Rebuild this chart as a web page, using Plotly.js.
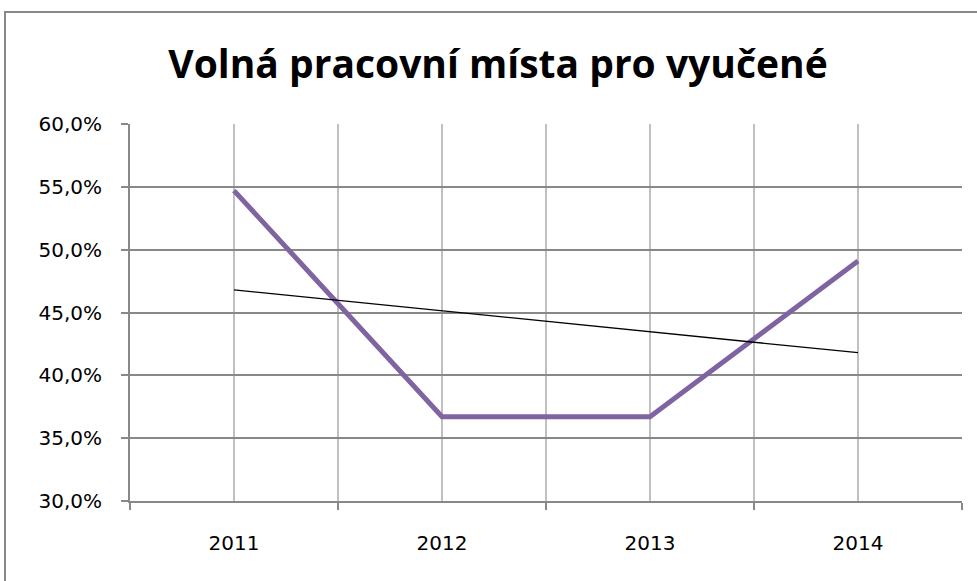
<!DOCTYPE html>
<html>
<head>
<meta charset="utf-8">
<script src="https://cdn.plot.ly/plotly-3.0.1.min.js"></script>
<style>
  html, body { margin: 0; padding: 0; background: #ffffff; }
  #wrap { position: relative; width: 977px; height: 581px; overflow: hidden; }
  #chart { position: absolute; left: 0; top: 0; width: 977px; height: 581px; }
  #frame { position: absolute; left: 4px; top: 11px; width: 1100px; height: 700px;
           border: 2px solid #888888; pointer-events: none; }
</style>
</head>
<body>
<div id="wrap">
  <div id="chart"></div>
  <div id="frame"></div>
</div>
<script>
// Data
const years = [2011, 2012, 2013, 2014];
const yearLabels = ['2011', '2012', '2013', '2014'];
const shares = [0.547, 0.367, 0.367, 0.491];
// Linear trendline endpoints
const trendYears = [2011, 2014];
const trendValues = [0.468, 0.418];
const yTicks = [0.30, 0.35, 0.40, 0.45, 0.50, 0.55, 0.60];

const traces = [
  {
    x: years, y: shares, type: 'scatter', mode: 'lines',
    line: { color: '#8064a2', width: 5 },
    hoverinfo: 'skip', showlegend: false
  },
  {
    x: trendYears, y: trendValues, type: 'scatter', mode: 'lines',
    line: { color: '#000000', width: 1.3 },
    hoverinfo: 'skip', showlegend: false
  }
];

const layout = {
  width: 977, height: 581,
  margin: { l: 130, r: 15, t: 124, b: 80, pad: 0 },
  paper_bgcolor: '#ffffff', plot_bgcolor: '#ffffff',
  separators: ', ',
  showlegend: false,
  title: {
    text: 'Volná pracovní místa pro vyučené',
    font: { family: 'Open Sans', size: 39, color: '#000000', weight: 'bold' },
    x: 498 / 977, xanchor: 'center', xref: 'container',
    y: 1 - 64 / 581, yanchor: 'middle', yref: 'container'
  },
  xaxis: {
    type: 'linear',
    range: [2010.5, 2014.5],
    tickvals: years, ticktext: yearLabels,
    ticks: '',
    showgrid: true, gridcolor: '#c0c0c0', gridwidth: 1.5,
    zeroline: false,
    showline: true, linecolor: '#888888', linewidth: 2,
    tickfont: { family: 'DejaVu Sans', size: 20, color: '#000000' },
    ticklabelstandoff: 23,
    minor: {
      tick0: 2010.5, dtick: 1,
      showgrid: true, gridcolor: '#c0c0c0', gridwidth: 1.5,
      ticks: 'outside', ticklen: 7, tickcolor: '#888888', tickwidth: 2
    },
    fixedrange: true
  },
  yaxis: {
    range: [0.30, 0.60],
    tickvals: yTicks,
    tickformat: '.1%',
    ticks: 'outside', ticklen: 7, tickcolor: '#888888', tickwidth: 2,
    showgrid: true, gridcolor: '#888888', gridwidth: 2,
    zeroline: false,
    showline: true, linecolor: '#888888', linewidth: 2,
    tickfont: { family: 'DejaVu Sans', size: 20, color: '#000000' },
    ticklabelstandoff: 15,
    fixedrange: true
  }
};

Plotly.newPlot('chart', traces, layout, { staticPlot: true, displayModeBar: false });
</script>
</body>
</html>
